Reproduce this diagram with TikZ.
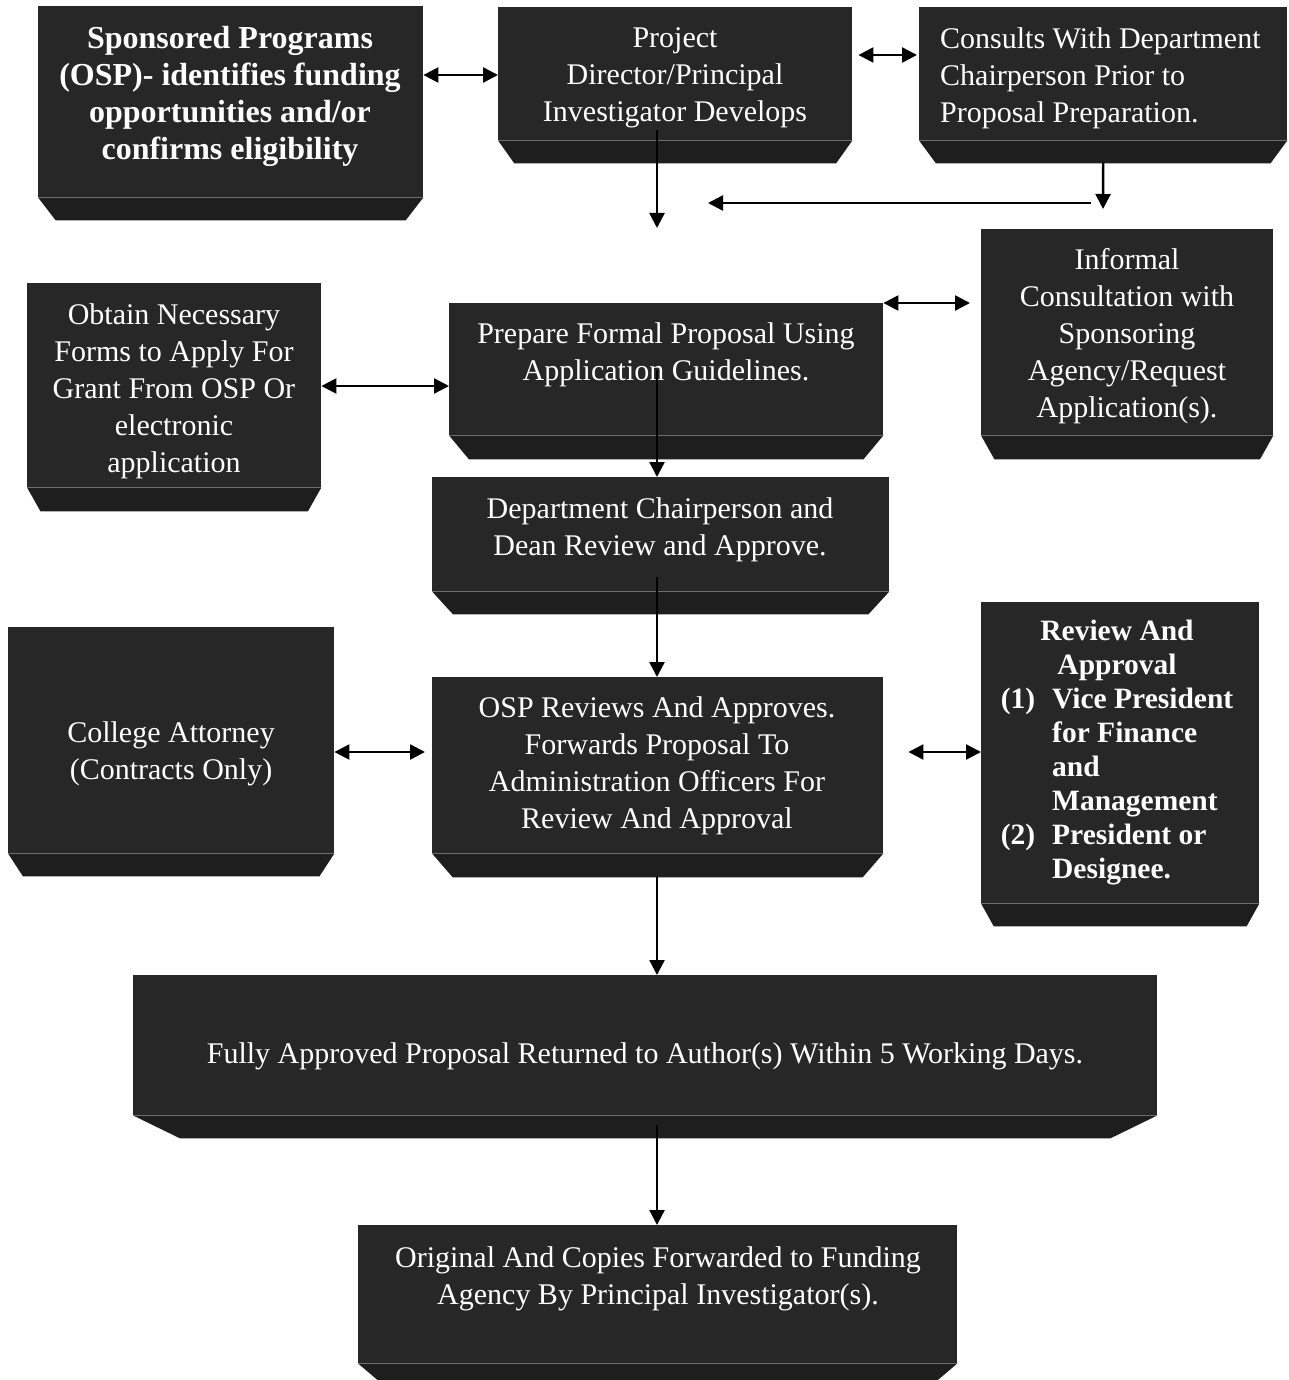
\documentclass[tikz,border=0pt]{standalone}
\usepackage{fontspec}
\setmainfont{Liberation Serif}
\usetikzlibrary{arrows.meta,calc}
\definecolor{boxface}{HTML}{272727}
\definecolor{bevelface}{HTML}{1E1E1E}
\newcommand\bevbox[6]{%
  \pgfmathsetmacro\bw{#4-#2}\pgfmathsetmacro\bh{#5-#3}%
  \pgfmathsetmacro\bi{0.046*\bw}\pgfmathsetmacro\bd{#6-#5}%
  \node[boxmain, minimum width=\bw pt, minimum height=\bh pt, anchor=north west] (#1) at (#2,#3) {};
  \fill[bevelpart] (#1.south west) -- (#1.south east) -- ($(#1.south east)+(-\bi,\bd)$) -- ($(#1.south west)+(\bi,\bd)$) -- cycle;
}
\begin{document}
\begin{tikzpicture}[x=1pt,y=-1pt,
  boxmain/.style={rectangle, fill=boxface, inner sep=0pt},
  bevelpart/.style={fill=bevelface},
  txt/.style={text=white, align=center, inner sep=0pt, font=\fontsize{30}{37}\selectfont},
  conn/.style={line width=2.4pt, -{Triangle[length=15pt,width=15pt]}},
  bid/.style={line width=2.4pt, {Triangle[length=15pt,width=15pt]}-{Triangle[length=15pt,width=15pt]}}]
\useasboundingbox[fill=white] (0,0) rectangle (1288,1380);
% boxes
\bevbox{osp}{38}{6}{423}{197}{220}
\bevbox{pd}{498}{7}{852}{140}{163}
\bevbox{cons}{919}{7}{1287}{140}{163}
\bevbox{inf}{981}{229}{1273}{435}{459}
\bevbox{obt}{27}{283}{321}{487}{511}
\bevbox{prep}{449}{303}{883}{435}{459}
\bevbox{dept}{432}{477}{889}{591}{614}
\bevbox{osprev}{432}{677}{883}{853}{877}
\bevbox{coll}{8}{627}{334}{853}{876}
\bevbox{rev}{981}{602}{1259}{903}{926}
\bevbox{fully}{133}{975}{1157}{1115}{1138}
\node[boxmain, minimum width=599pt, minimum height=138pt, anchor=north west] (orig) at (358,1225) {};
\fill[bevelpart] (orig.south west) -- (orig.south east) -- ($(orig.south east)+(-20,17)$) -- ($(orig.south west)+(20,17)$) -- cycle;
% texts
\node[txt, font=\fontsize{32}{37}\selectfont\bfseries] (tosp) at (230,96.5) {Sponsored Programs\\(OSP)- identifies funding\\opportunities and/or\\confirms eligibility};
\node[txt] (tpd) at (675,78) {Project\\Director/Principal\\Investigator Develops};
\node[txt, align=left, anchor=west] (tcons) at (940,78) {Consults With Department\\Chairperson Prior to\\Proposal Preparation.};
\node[txt] (tinf) at (1127,336) {Informal\\Consultation with\\Sponsoring\\Agency/Request\\Application(s).};
\node[txt] (tobt) at (174,391) {Obtain Necessary\\Forms to Apply For\\Grant From OSP Or\\electronic\\application};
\node[txt] (tprep) at (666,354.5) {Prepare Formal Proposal Using\\Application Guidelines.};
\node[txt] (tdept) at (660,530) {Department Chairperson and\\Dean Review and Approve.};
\node[txt] (tosprev) at (657,766) {OSP Reviews And Approves.\\Forwards Proposal To\\Administration Officers For\\Review And Approval};
\node[txt] (tcoll) at (171,753.5) {College Attorney\\(Contracts Only)};
\node[txt, font=\fontsize{29.5}{34}\selectfont\bfseries] (trev) at (1117,752.5) {\begin{tabular}{@{}l@{\hspace{17pt}}l@{}}
\multicolumn{2}{c}{Review And}\\
\multicolumn{2}{c}{Approval}\\
(1) & Vice President\\
 & for Finance\\
 & and\\
 & Management\\
(2) & President or\\
 & Designee.
\end{tabular}};
\node[txt] (tfully) at (645,1056) {Fully Approved Proposal Returned to Author(s) Within 5 Working Days.};
\node[txt] (torig) at (658,1278.5) {Original And Copies Forwarded to Funding\\Agency By Principal Investigator(s).};
% helper coordinates
\coordinate (vx) at (657,0);
\coordinate (h1) at (0,75);
\coordinate (h2) at (0,55);
\coordinate (h7) at (0,386);
\coordinate (h10) at (0,752);
\coordinate (e3) at (657,228);
\coordinate (e4) at (1103,209);
\coordinate (s5) at (1091,203);
\coordinate (e5) at (708,203);
% connectors
\draw[bid] (osp.east |- h1) -- (pd.west |- h1);
\draw[bid, shorten <=6pt, shorten >=2pt] (pd.east |- h2) -- (cons.west |- h2);
\draw[conn] ($(vx |- pd.south)+(0,-10)$) -- (e3);
\draw[conn] ($(cons.south)+(0,22)$) -- (e4);
\draw[conn] (s5) -- (e5);
\draw[bid, shorten >=11pt] (prep.north east) -- (inf.west |- prep.north);
\draw[bid] (obt.east |- h7) -- (prep.west |- h7);
\draw[conn] ($(vx |- prep.south)+(0,-65)$) -- (vx |- dept.north);
\draw[conn] ($(vx |- dept.south)+(0,-14)$) -- (vx |- osprev.north);
\draw[bid, shorten >=7pt] (coll.east |- h10) -- (osprev.west |- h10);
\draw[bid, shorten <=25pt] (osprev.east |- h10) -- (rev.west |- h10);
\draw[conn] ($(vx |- osprev.south)+(0,24)$) -- (vx |- fully.north);
\draw[conn] ($(vx |- fully.south)+(0,10)$) -- (vx |- orig.north);
\end{tikzpicture}
\end{document}
